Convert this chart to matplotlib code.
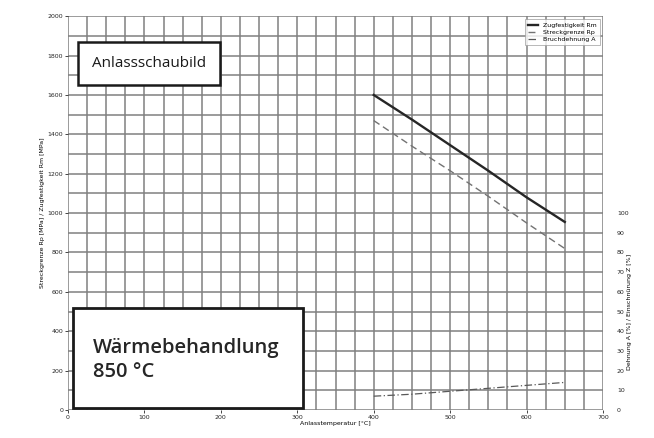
import matplotlib.pyplot as plt
from matplotlib.patches import Rectangle
import numpy as np

# Anlassschaubild
temp = [400, 450, 500, 550, 600, 650]
zugfestigkeit = [1600, 1475, 1345, 1215, 1080, 955]
streckgrenze = [1470, 1340, 1215, 1085, 950, 820]
bruchdehnung = [7, 8, 9.5, 11, 12.5, 14]

x_ticks = list(range(0, 701, 100))
y_ticks = list(range(0, 2001, 200))
y2_ticks = list(range(0, 101, 10))

fig = plt.figure(figsize=(6.54, 4.38), dpi=100)
ax = fig.add_axes([0.104, 0.064, 0.818, 0.899])

ax.set_xlim(0, 700)
ax.set_ylim(0, 2000)

# Raster
for xv in np.arange(0, 701, 25):
    ax.axvline(xv, color="0.5", lw=1.1, zorder=0)
for yv in np.arange(0, 2001, 100):
    ax.axhline(yv, color="0.5", lw=1.1, zorder=0)
for s in ax.spines.values():
    s.set_visible(False)

ax.set_xticks(x_ticks)
ax.set_yticks(y_ticks)
ax.tick_params(labelsize=4.5, length=2, width=0.6, pad=1.5, colors="0.15")
ax.set_xlabel("Anlasstemperatur [°C]", fontsize=4.5, labelpad=1)
ax.set_ylabel("Streckgrenze Rp [MPa] / Zugfestigkeit Rm [MPa]", fontsize=4.5, labelpad=2)

ax.plot(temp, zugfestigkeit, color="0.15", lw=1.7, label="Zugfestigkeit Rm", zorder=3)
ax.plot(temp, streckgrenze, color="0.45", lw=1.0, ls=(0, (5, 3)), label="Streckgrenze Rp", zorder=3)

ax2 = ax.twinx()
ax2.set_ylim(0, 200)
ax2.set_yticks(y2_ticks)
for s in ax2.spines.values():
    s.set_visible(False)
ax2.tick_params(labelsize=4.5, length=0, pad=10, colors="0.15")
ax2.set_ylabel("Dehnung A [%] / Einschnürung Z [%]", fontsize=4.5, labelpad=3)
ax2.yaxis.set_label_coords(1.045, 0.25)
l3, = ax2.plot(temp, bruchdehnung, color="0.35", lw=0.9, ls=(0, (6, 2, 1, 2)),
               label="Bruchdehnung A", zorder=3)

h1, lab1 = ax.get_legend_handles_labels()
leg = ax.legend(h1 + [l3], lab1 + ["Bruchdehnung A"], loc="upper right",
                fontsize=4.5, frameon=True, fancybox=False, edgecolor="0.6",
                handlelength=1.6, borderpad=0.5, labelspacing=0.3,
                bbox_to_anchor=(1.0, 1.0))
leg.get_frame().set_linewidth(0.6)
leg.set_zorder(10)

# Textkästen
ax.add_patch(Rectangle((0.019, 0.825), 0.265, 0.109, transform=ax.transAxes,
                       fc="white", ec="0.1", lw=1.8, zorder=9, clip_on=False))
ax.text(0.045, 0.88, "Anlassschaubild", transform=ax.transAxes, fontsize=11,
        family="Open Sans", color="0.1",
        va="center", ha="left", zorder=10)

ax.add_patch(Rectangle((0.009, 0.005), 0.43, 0.254, transform=ax.transAxes,
                       fc="white", ec="0.1", lw=2.0, zorder=9, clip_on=False))
ax.text(0.047, 0.157, "Wärmebehandlung", transform=ax.transAxes, fontsize=14.5,
        family="Open Sans", fontweight="semibold", color="0.15",
        va="center", ha="left", zorder=10)
ax.text(0.047, 0.097, "850 °C", transform=ax.transAxes, fontsize=14.5,
        family="Open Sans", fontweight="semibold", color="0.15",
        va="center", ha="left", zorder=10)

fig.savefig("out.png", dpi=100)
